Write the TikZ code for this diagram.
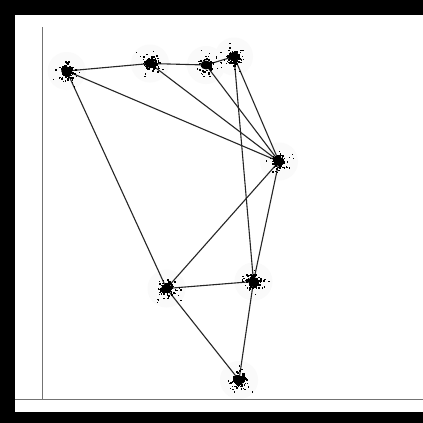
\documentclass[tikz,border=0pt]{standalone}
\begin{document}
\begin{tikzpicture}[x=1pt,y=-1pt,
  edge/.style={line width=1.1pt,black!85},
  axis/.style={line width=1pt,black!55}]
\pgfmathsetseed{7}
\newcommand\clust[1]{%
  \fill[black,shift={(#1)}] (0,0) ellipse (5.5 and 4.5);
  \foreach \i in {1,...,90}{%
    \pgfmathsetmacro\dx{3.6*(rand+rand+rand)}%
    \pgfmathsetmacro\dy{3.6*(rand+rand+rand)}%
    \fill[shift={(#1)}] (\dx,\dy) rectangle ++(1.6,1.6);
  }%
  \foreach \i in {1,...,25}{%
    \pgfmathsetmacro\dx{8*(rand+rand)}%
    \pgfmathsetmacro\dy{8*(rand+rand)}%
    \fill[shift={(#1)}] (\dx,\dy) rectangle ++(1.3,1.3);
  }%
}
\useasboundingbox (0,0) rectangle (423,423);
\fill[black] (0,0) rectangle (423,423);
\fill[white] (15,15) rectangle (423,412);
\coordinate (A) at (66.7,71);
\coordinate (B) at (150,63.5);
\coordinate (C) at (206,65);
\coordinate (D) at (234,56.5);
\coordinate (E) at (279,161.5);
\coordinate (F) at (166.5,288.5);
\coordinate (G) at (253.5,281.5);
\coordinate (H) at (239,380);
\coordinate (Yt) at (42.7,27);
\coordinate (O) at (42.7,399.5);
\coordinate (Xl) at (15,399.5);
\coordinate (Xr) at (423,399.5);
\foreach \n in {A,B,C,D,E,F,G,H}{\fill[gray!4] (\n) circle (19);}
\draw[axis] (Yt) -- (O);
\draw[axis] (Xl) -- (Xr);
\draw[edge] (A) -- (B);
\draw[edge] (B) -- (C);
\draw[edge] (C) -- (D);
\draw[edge] (A) -- (E);
\draw[edge] (A) -- (F);
\draw[edge] (B) -- (E);
\draw[edge] (C) -- (E);
\draw[edge] (D) -- (E);
\draw[edge] (D) -- (G);
\draw[edge] (E) -- (F);
\draw[edge] (E) -- (G);
\draw[edge] (F) -- (G);
\draw[edge] (F) -- (H);
\draw[edge] (G) -- (H);
\foreach \n in {A,B,C,D,E,F,G,H}{\clust{\n}}
\end{tikzpicture}
\end{document}
